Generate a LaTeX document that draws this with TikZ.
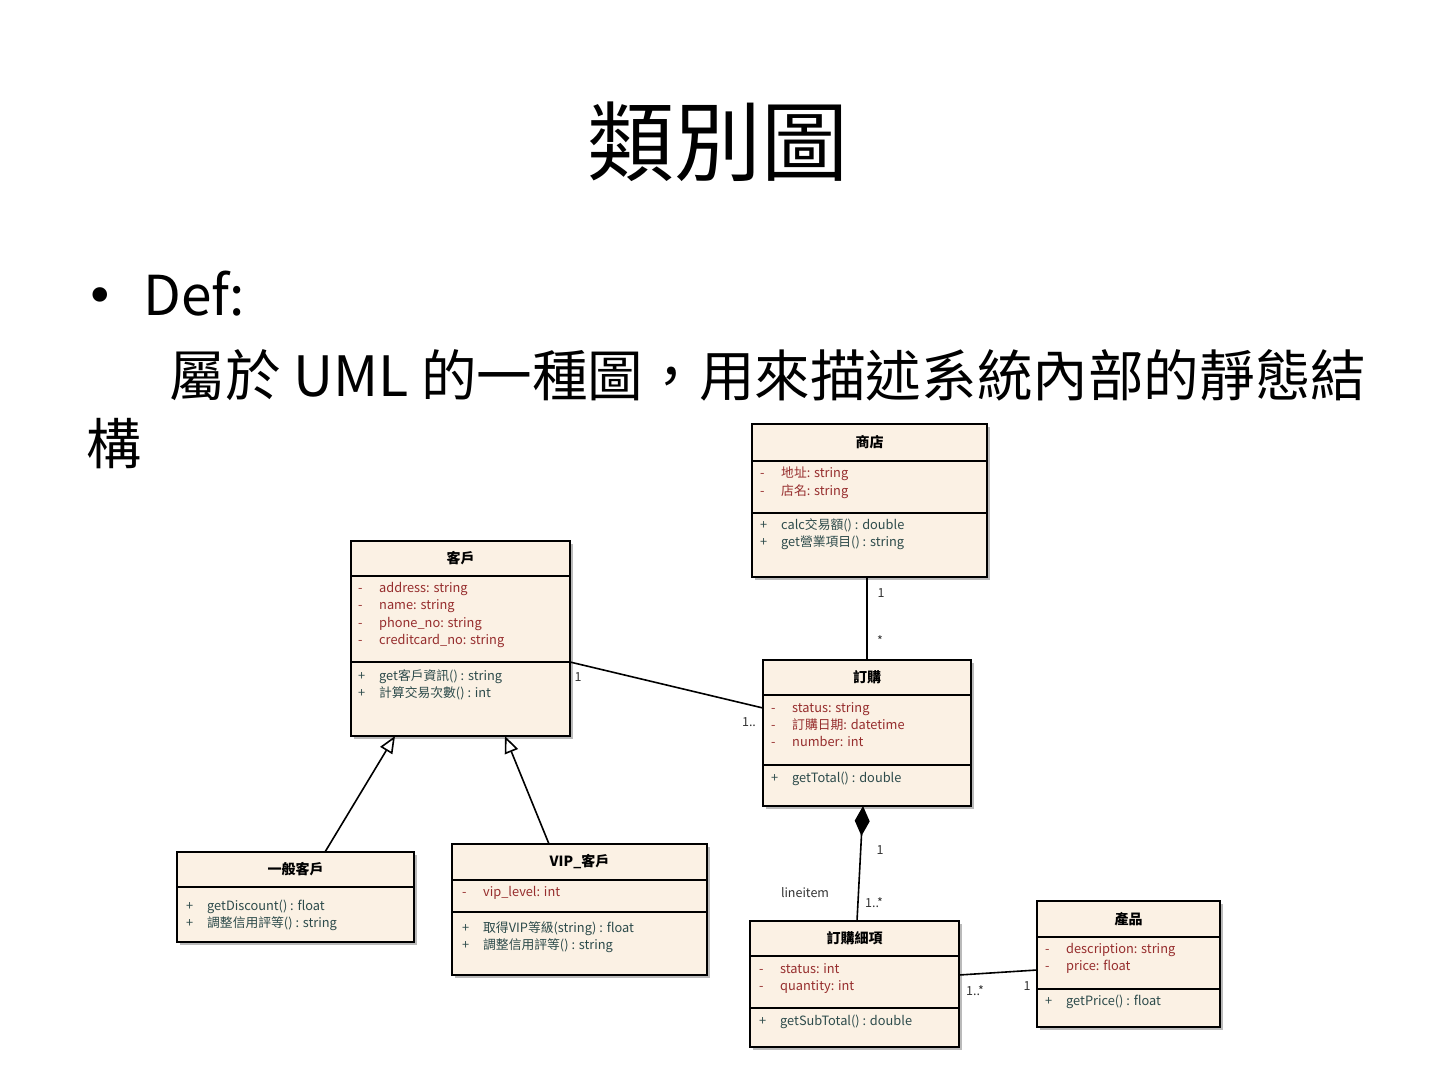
\documentclass[tikz,border=0pt]{standalone}
\usepackage{fontspec}
\setmainfont{Noto Sans CJK TC}
\newfontfamily\symfont{DejaVu Sans}
\usetikzlibrary{arrows.meta,shadows}
\definecolor{clsfill}{RGB}{251,241,228}
\definecolor{attrcol}{RGB}{150,45,45}
\definecolor{opcol}{RGB}{45,75,75}
\newcommand{\priv}{\makebox[21pt][l]{-}}
\newcommand{\pub}{\makebox[21pt][l]{+}}

\begin{document}
\begin{tikzpicture}[x=1pt,y=-1pt,
        cls/.style={rectangle, draw, line width=1.6pt, fill=clsfill, outer sep=0pt, inner sep=0pt,
            drop shadow={shadow xshift=3pt, shadow yshift=-3pt, fill=black!45, opacity=.6}},
        sep/.style={draw, line width=1.4pt},
        ttl/.style={font=\fontsize{14}{16}\selectfont\bfseries},
        attr/.style={anchor=north west, inner sep=0pt, align=left, text=attrcol, font=\fontsize{12.8}{17.3}\selectfont},
        op/.style={attr, text=opcol},
        mult/.style={font=\fontsize{12.5}{14}\selectfont, text=black!80, inner sep=1pt},
        assoc/.style={draw, line width=1.6pt},
        inherit/.style={assoc, -{Triangle[open, fill=white, length=17pt, width=14pt]}},
        comp/.style={assoc, {Diamond[length=30pt, width=15pt]}-}
    ]
        \useasboundingbox (0,0) rectangle (1440,1080);

        % slide text
        \node[anchor=base, font=\fontsize{87}{100}\selectfont] (title) at (718,174) {類別圖};
        \node[anchor=base west, font=\symfont\fontsize{50}{60}\selectfont] (bullet) at (82,313) {•};
        \node[anchor=base west, font=\fontsize{55}{66}\selectfont] (def) at (140,315) {Def:};
        \node[anchor=base west, font=\fontsize{55.6}{66}\selectfont] (defline) at (166,396) {屬於 UML 的一種圖，用來描述系統內部的靜態結};
        \node[anchor=base west, font=\fontsize{55}{66}\selectfont] (defend) at (83,464) {構};

        % classes
        \node[cls, minimum width=235pt, minimum height=153pt] (shop) at (869.5,500.5) {};
        \draw[sep] ([yshift=-37pt]shop.north west) -- ([yshift=-37pt]shop.north east);
        \draw[sep] ([yshift=-89pt]shop.north west) -- ([yshift=-89pt]shop.north east);
        \node[ttl] (shopT) at ([yshift=-18.5pt]shop.north) {商店};
        \node[attr] (shopA) at (760,467) {\priv 地址: string\\ \priv 店名: string};
        \node[op] (shopO) at (760,518) {\pub calc交易額() : double\\ \pub get營業項目() : string};

        \node[cls, minimum width=219pt, minimum height=195pt] (cust) at (460.5,638.5) {};
        \draw[sep] ([yshift=-35pt]cust.north west) -- ([yshift=-35pt]cust.north east);
        \draw[sep] ([yshift=-121pt]cust.north west) -- ([yshift=-121pt]cust.north east);
        \node[ttl] (custT) at ([yshift=-17.5pt]cust.north) {客戶};
        \node[attr] (custA) at (358,582) {\priv address: string\\ \priv name: string\\ \priv phone\_no: string\\ \priv creditcard\_no: string};
        \node[op] (custO) at (358,669) {\pub get客戶資訊() : string\\ \pub 計算交易次數() : int};

        \node[cls, minimum width=208pt, minimum height=146pt] (order) at (867,733) {};
        \draw[sep] ([yshift=-35pt]order.north west) -- ([yshift=-35pt]order.north east);
        \draw[sep] ([yshift=-105pt]order.north west) -- ([yshift=-105pt]order.north east);
        \node[ttl] (orderT) at ([yshift=-17.5pt]order.north) {訂購};
        \node[attr] (orderA) at (771,702) {\priv status: string\\ \priv 訂購日期: datetime\\ \priv number: int};
        \node[op] (orderO) at (771,772) {\pub getTotal() : double};

        \node[cls, minimum width=237pt, minimum height=90pt] (normal) at (295.5,897) {};
        \draw[sep] ([yshift=-35pt]normal.north west) -- ([yshift=-35pt]normal.north east);
        \node[ttl] (normalT) at ([yshift=-17.5pt]normal.north) {一般客戶};
        \node[op] (normalO) at (186,900) {\pub getDiscount() : float\\ \pub 調整信用評等() : string};

        \node[cls, minimum width=255pt, minimum height=131pt] (vip) at (579.5,909.5) {};
        \draw[sep] ([yshift=-36pt]vip.north west) -- ([yshift=-36pt]vip.north east);
        \draw[sep] ([yshift=-68pt]vip.north west) -- ([yshift=-68pt]vip.north east);
        \node[ttl] (vipT) at ([yshift=-18pt]vip.north) {VIP\_客戶};
        \node[attr] (vipA) at (462,886) {\priv vip\_level: int};
        \node[op] (vipO) at (462,921) {\pub 取得VIP等級(string) : float\\ \pub 調整信用評等() : string};

        \node[cls, minimum width=209pt, minimum height=126pt] (item) at (854.5,984) {};
        \draw[sep] ([yshift=-35pt]item.north west) -- ([yshift=-35pt]item.north east);
        \draw[sep] ([yshift=-87pt]item.north west) -- ([yshift=-87pt]item.north east);
        \node[ttl] (itemT) at ([yshift=-17.5pt]item.north) {訂購細項};
        \node[attr] (itemA) at (759,963) {\priv status: int\\ \priv quantity: int};
        \node[op] (itemO) at (759,1015) {\pub getSubTotal() : double};

        \node[cls, minimum width=183pt, minimum height=126pt] (prod) at (1128.5,964) {};
        \draw[sep] ([yshift=-36pt]prod.north west) -- ([yshift=-36pt]prod.north east);
        \draw[sep] ([yshift=-88pt]prod.north west) -- ([yshift=-88pt]prod.north east);
        \node[ttl] (prodT) at ([yshift=-18pt]prod.north) {產品};
        \node[attr] (prodA) at (1045,943) {\priv description: string\\ \priv price: float};
        \node[op] (prodO) at (1045,995) {\pub getPrice() : float};

        % connectors
        \draw[assoc] (order.north) -- (order.north |- shop.south);
        \draw[assoc] ([yshift=-121pt]cust.north east) -- ([yshift=-48pt]order.north west);
        \draw[inherit] ([xshift=29.5pt]normal.north) -- ([xshift=-65.5pt]cust.south);
        \draw[inherit] ([xshift=-30.5pt]vip.north) -- ([xshift=44.5pt]cust.south);
        \draw[comp] ([xshift=-4pt]order.south) -- ([xshift=2.5pt]item.north);
        \draw[assoc] ([yshift=-54pt]item.north east) -- ([yshift=-69pt]prod.north west);

        % multiplicities
        \node[mult] (m1) at (881,593) {1};
        \node[mult] (m2) at (880,641) {*};
        \node[mult] (m3) at (578,677) {1};
        \node[mult] (m4) at (749,722) {1..};
        \node[mult] (m5) at (880,850) {1};
        \node[mult] (m6) at (874,903) {1..*};
        \node[mult] (m7) at (805,893) {lineitem};
        \node[mult] (m8) at (975,991) {1..*};
        \node[mult] (m9) at (1027,986) {1};
    \end{tikzpicture}
\end{document}
